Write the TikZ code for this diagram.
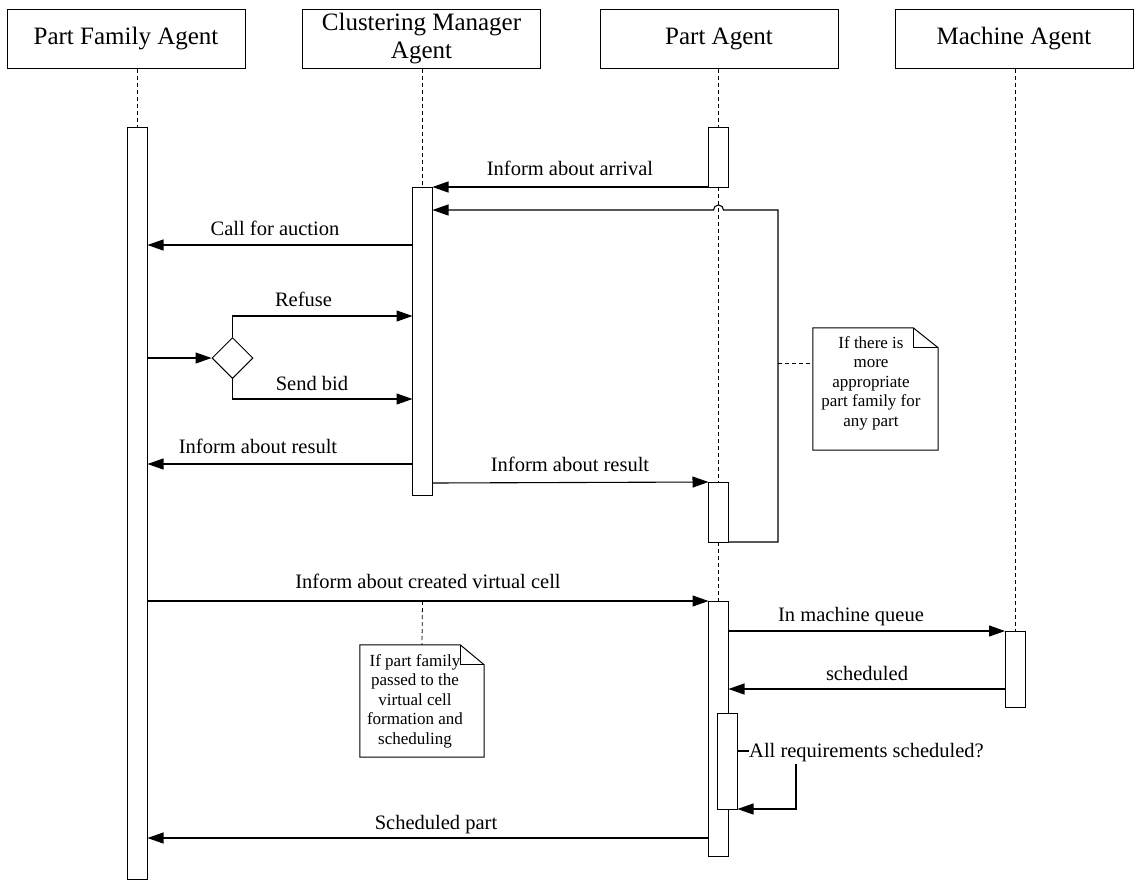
\documentclass[tikz,border=0pt]{standalone}
\usepackage{fontspec}
\setmainfont{Liberation Serif}
\usetikzlibrary{arrows.meta,shapes.geometric}
\begin{document}
\begin{tikzpicture}[x=1pt,y=-1pt,
  head/.style={draw, line width=1pt, minimum width=238pt, minimum height=59pt,
    inner sep=0pt, align=center, font=\fontsize{25}{28}\selectfont},
  act/.style={draw, line width=1pt, fill=white, minimum width=19pt, inner sep=0pt, anchor=north},
  life/.style={dash pattern=on 4pt off 3pt, line width=0.8pt},
  msg/.style={line width=1.1pt, -{Triangle[length=16pt,width=11pt]}},
  plain/.style={line width=1.1pt},
  lbl/.style={anchor=base, inner sep=0pt, font=\fontsize{20.5}{24}\selectfont},
  notebox/.style={inner sep=0pt},
  notetext/.style={anchor=north, align=center, inner sep=0pt, font=\fontsize{17}{19.5}\selectfont},
  choice/.style={draw, diamond, aspect=1, line width=1pt, minimum size=41pt, inner sep=0pt},
]
\useasboundingbox (0,0) rectangle (1136,879);

% lifeline heads
\node[head] (pf) at (126,38.5) {Part Family Agent};
\node[head] (cm) at (421.5,38.5) {Clustering Manager\\Agent};
\node[head] (pa) at (719,38.5) {Part Agent};
\node[head] (ma) at (1014,38.5) {Machine Agent};

% activation bars (placed as coordinates first for the lifelines)
\path (137.5,127) node[act, minimum height=751pt, draw=none, fill=none] (pfA) {};
\path (718.5,127) node[act, minimum height=59pt, draw=none, fill=none] (paA1) {};
\path (422.5,187) node[act, minimum height=307pt, draw=none, fill=none] (cmA) {};
\path (718.5,482) node[act, minimum height=59pt, draw=none, fill=none] (paA2) {};
\path (718.5,601) node[act, minimum height=254pt, draw=none, fill=none] (paA3) {};
\path (1015,631) node[act, minimum height=75pt, draw=none, fill=none] (maA) {};
\path (727.5,713) node[act, minimum height=95pt, draw=none, fill=none] (paA4) {};

% dashed lifelines
\draw[life] (pfA.north |- pf.south) -- (pfA.north);
\draw[life] (cmA.north |- cm.south) -- (cmA.north);
\draw[life] (paA1.north |- pa.south) -- (paA1.north);
\draw[life] (paA1.south) -- (paA2.north);
\draw[life] (paA2.south) -- (paA3.north);
\draw[life] (maA.north |- ma.south) -- (maA.north);

% activation bars drawn over the lifelines
\foreach \b in {pfA,paA1,cmA,paA2,paA3,maA,paA4}
  \draw[line width=1pt, fill=white] (\b.north west) rectangle (\b.south east);

% notes
\node[notebox, minimum width=125pt, minimum height=122pt] (n1) at (875.5,389) {};
\draw[line width=1pt, fill=white] (n1.south west) -- (n1.north west) -- ([xshift=-25pt]n1.north east)
  -- ([yshift=-20pt]n1.north east) -- (n1.south east) -- cycle;
\draw[line width=1pt] ([xshift=-25pt]n1.north east) |- ([yshift=-20pt]n1.north east);
\node[notetext] (n1t) at (871,336) {If there is\\more\\appropriate\\part family for\\any part};

\node[notebox, minimum width=124pt, minimum height=112pt] (n2) at (422,701) {};
\draw[line width=1pt, fill=white] (n2.south west) -- (n2.north west) -- ([xshift=-24pt]n2.north east)
  -- ([yshift=-20pt]n2.north east) -- (n2.south east) -- cycle;
\draw[line width=1pt] ([xshift=-24pt]n2.north east) |- ([yshift=-20pt]n2.north east);
\node[notetext] (n2t) at (415,654) {If part family\\passed to the\\virtual cell\\formation and\\scheduling};
\draw[life] (cmA.south |- 0,601) -- (n2.north);

% messages
\draw[msg] (paA1.south west) -- (cmA.east |- paA1.south west);
\node[lbl] at (570,175) {Inform about arrival};

\coordinate (loopC) at (778,363);
\draw[msg] (paA2.south east) -| (loopC) |- (723.5,210) arc (0:-180:5) -- (cmA.east |- 0,210);
\draw[life] (loopC) -- (n1.west |- loopC);

\draw[msg] (cmA.west |- 0,245) -- (pfA.east |- 0,245);
\node[lbl] at (275,235) {Call for auction};

\node[choice] (dia) at (232.5,358) {};
\draw[msg] (pfA.east |- dia.west) -- (dia.west);
\draw[msg] (dia.north) |- (cmA.west |- 0,316);
\node[lbl] at (303.5,306) {Refuse};
\draw[msg] (dia.south) |- (cmA.west |- 0,399);
\node[lbl] at (312,390) {Send bid};

\draw[msg] (cmA.west |- 0,464) -- (pfA.east |- 0,464);
\node[lbl] at (258,453) {Inform about result};
\draw[msg] (cmA.east |- 0,483) -- (paA2.north west);
\node[lbl] at (570,471) {Inform about result};

\draw[msg] (pfA.east |- 0,601) -- (paA3.north west);
\node[lbl] at (428,588) {Inform about created virtual cell};

\draw[msg] (paA3.east |- 0,631) -- (maA.north west);
\node[lbl] at (851,621) {In machine queue};
\draw[msg] (maA.west |- 0,689) -- (paA3.east |- 0,689);
\node[lbl] at (867,680) {scheduled};

\node[lbl, anchor=base west] (selfl) at (749,757) {All requirements scheduled?};
\draw[plain] (paA4.east |- 0,751) -- (selfl.west |- 0,751);
\draw[msg] (796,764) |- (paA4.south east);

\draw[msg] (paA3.west |- 0,838) -- (pfA.east |- 0,838);
\node[lbl] at (436,829) {Scheduled part};
\end{tikzpicture}
\end{document}
